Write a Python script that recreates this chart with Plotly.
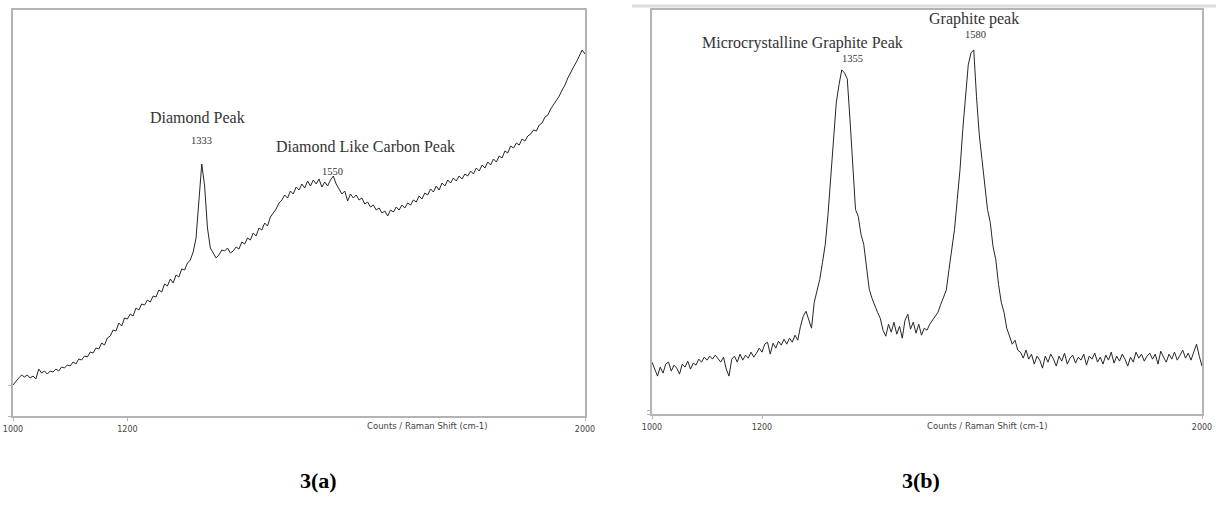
import plotly.graph_objects as go

# Raman shift sampling (cm-1)
raman_shift = list(range(1000, 2001, 5))

# Panel 3(a): diamond / DLC spectrum (arbitrary counts)
counts_a = [
    31, 35, 38, 41, 39, 41, 38, 40, 37, 47,
    43, 45, 42, 45, 44, 47, 45, 49, 48, 51,
    50, 54, 52, 57, 56, 60, 59, 64, 63, 68,
    67, 73, 71, 78, 80, 86, 85, 93, 90, 98,
    97, 102, 100, 108, 106, 112, 111, 116, 114, 120,
    119, 126, 124, 132, 130, 137, 133, 141, 139, 147,
    146, 153, 156, 164, 178, 215, 252, 230, 188, 168,
    163, 158, 161, 166, 165, 168, 163, 165, 169, 167,
    174, 172, 178, 176, 183, 180, 188, 186, 193, 190,
    199, 203, 207, 213, 216, 221, 218, 225, 222, 229,
    226, 232, 228, 235, 230, 236, 232, 237, 229, 234,
    230, 236, 240, 232, 227, 222, 225, 215, 222, 218,
    221, 216, 218, 212, 214, 209, 211, 206, 208, 203,
    205, 200, 206, 204, 209, 206, 211, 208, 213, 211,
    216, 214, 220, 217, 223, 221, 227, 224, 230, 226,
    233, 230, 236, 233, 238, 235, 240, 237, 242, 240,
    245, 242, 248, 245, 251, 248, 254, 251, 257, 254,
    260, 258, 265, 263, 270, 268, 273, 271, 277, 275,
    280, 282, 286, 285, 291, 293, 299, 301, 307, 311,
    316, 320, 326, 331, 338, 344, 349, 354, 360, 366,
    362,
]

# Panel 3(b): graphite spectrum (arbitrary counts)
counts_b = [
    52, 44, 38, 47, 41, 50, 52, 43, 49, 46,
    40, 50, 47, 53, 45, 51, 49, 55, 52, 57,
    54, 58, 55, 59, 56, 52, 57, 45, 38, 55,
    58, 52, 60, 54, 59, 56, 62, 57, 61, 66,
    62, 70, 72, 60, 71, 66, 73, 69, 75, 70,
    76, 72, 79, 74, 88, 98, 103, 95, 86, 112,
    124, 135, 152, 170, 200, 240, 280, 312, 330, 345,
    342, 336, 295, 245, 205, 198, 180, 170, 145, 125,
    116, 108, 102, 96, 84, 78, 90, 82, 92, 80,
    88, 76, 94, 100, 85, 92, 81, 90, 79, 86,
    84, 90, 94, 98, 102, 110, 118, 124, 145, 165,
    185, 215, 245, 285, 318, 350, 362, 365, 318, 280,
    255, 230, 205, 192, 168, 155, 130, 112, 102, 86,
    78, 70, 74, 64, 62, 56, 64, 55, 60, 50,
    58, 54, 46, 58, 52, 60, 55, 48, 58, 53,
    61, 50, 56, 59, 51, 57, 54, 60, 49, 58,
    55, 61, 52, 57, 50, 59, 54, 62, 51, 58,
    53, 60, 55, 48, 57, 52, 62, 56, 60, 53,
    58, 61, 55, 60, 50, 63, 57, 52, 60, 55,
    62, 54, 59, 64, 56, 61, 54, 63, 70, 58,
    48,
]

tick_vals = [1000, 1200, 2000]
tick_text = ["1000", "1200", "2000"]
axis_label = "Counts / Raman Shift (cm-1)"
captions = ["3(a)", "3(b)"]

# peak labels: (text, x, y, size)
labels_a = [("Diamond Peak", 1322, 299, 16), ("1333", 1329, 276, 10.5),
            ("Diamond Like Carbon Peak", 1616, 270, 16), ("1550", 1558, 245, 10.5)]
labels_b = [("Microcrystalline Graphite Peak", 1274, 372, 16), ("1355", 1365, 356, 10.5),
            ("Graphite peak", 1586, 396, 16), ("1580", 1588, 380, 10.5)]

W, H = 1216, 514
fig = go.Figure()
line_style = dict(color="#262626", width=1.0)
fig.add_trace(go.Scatter(x=raman_shift, y=counts_a, mode="lines", line=line_style,
                         xaxis="x", yaxis="y", showlegend=False, hoverinfo="skip"))
fig.add_trace(go.Scatter(x=raman_shift, y=counts_b, mode="lines", line=line_style,
                         xaxis="x2", yaxis="y2", showlegend=False, hoverinfo="skip"))

frame = dict(showline=True, mirror=True, linecolor="#b4b4b4", linewidth=1.5,
             showgrid=False, zeroline=False)
xcommon = dict(frame, range=[1000, 2000], tickmode="array", tickvals=tick_vals,
               ticktext=tick_text, ticks="outside", ticklen=3, tickcolor="#b4b4b4",
               tickfont=dict(family="DejaVu Sans", size=8, color="#444444"),
               ticklabelstandoff=2, automargin=False)
ycommon = dict(frame, showticklabels=False, ticks="outside", ticklen=3,
               tickcolor="#b4b4b4", tickmode="array", automargin=False)

fig.update_layout(
    width=W, height=H, margin=dict(l=0, r=0, t=0, b=0),
    paper_bgcolor="white", plot_bgcolor="white",
    xaxis=dict(xcommon, domain=[13 / W, 585 / W], anchor="y"),
    yaxis=dict(ycommon, domain=[1 - 416 / H, 1 - 10 / H], range=[0, 406],
               tickvals=[0, 31], anchor="x"),
    xaxis2=dict(xcommon, domain=[652 / W, 1202 / W], anchor="y2"),
    yaxis2=dict(ycommon, domain=[1 - 414 / H, 1 - 10 / H], range=[0, 405],
                tickvals=[0, 4], anchor="x2"),
)

# faint frame line above panel (b)
fig.add_shape(type="line", xref="paper", yref="paper", x0=632 / W, x1=1.0,
              y0=1 - 6 / H, y1=1 - 6 / H, line=dict(color="#dcdcdc", width=3))

serif = "Liberation Serif"
for (t, x, y, s) in labels_a:
    fig.add_annotation(x=x, y=y, xref="x", yref="y", text=t, showarrow=False,
                       font=dict(family=serif, size=s, color="#333333"))
for (t, x, y, s) in labels_b:
    fig.add_annotation(x=x, y=y, xref="x2", yref="y2", text=t, showarrow=False,
                       font=dict(family=serif, size=s, color="#333333"))

for cx in (427, 1050):
    fig.add_annotation(x=cx / W, y=1 - 433 / H, xref="paper", yref="paper",
                       text=axis_label, showarrow=False,
                       font=dict(family="DejaVu Sans", size=8.5, color="#444444"))

for cap, cx in zip(captions, (298, 942)):
    fig.add_annotation(x=cx / W, y=1 - 495 / H, xref="paper", yref="paper",
                       text="<b>" + cap + "</b>", showarrow=False,
                       font=dict(family=serif, size=22, color="black"))

fig.write_html("out.html", config={"displayModeBar": False},
               post_script="document.body.style.margin='0';document.body.style.padding='0';")
